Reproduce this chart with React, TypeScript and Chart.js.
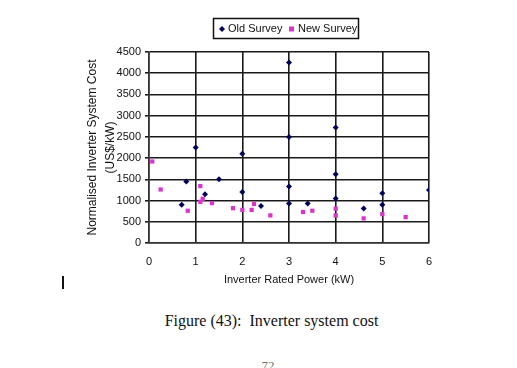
import React, { useEffect, useRef } from "react";
import { Chart, registerables } from "chart.js";

Chart.register(...registerables);

const oldSurveyX = [1, 2, 0.8, 1.5, 1.2, 0.7, 2, 3, 3, 2.4, 3.4, 4, 4, 4.6, 5, 5, 6, 3, 3, 4];
const oldSurveyY = [2250, 2100, 1450, 1500, 1150, 900, 1200, 1330, 930, 870, 930, 1620, 1050, 810, 1170, 900, 1250, 4250, 2500, 2720];

const newSurveyX = [0.07, 0.25, 0.83, 1.1, 1.1, 1.15, 1.35, 1.8, 2, 2.2, 2.25, 2.6, 3.3, 3.5, 4, 4, 4.6, 5, 5.5];
const newSurveyY = [1920, 1260, 760, 1340, 970, 1040, 940, 820, 780, 780, 920, 650, 730, 760, 810, 650, 580, 680, 610];

const xTicks = [0, 1, 2, 3, 4, 5, 6];
const yTicks = [0, 500, 1000, 1500, 2000, 2500, 3000, 3500, 4000, 4500];

const seriesNames = ["Old Survey", "New Survey"];
const yTitle = ["Normalised Inverter System Cost", "(US$/kW)"];
const xTitle = "Inverter Rated Power (kW)";
const caption = "Figure (43):  Inverter system cost";
const pageNumber = "72";

const FONT = "'Liberation Sans', Arial, sans-serif";

const legendPlugin = {
  id: "boxLegend",
  afterDraw(chart: any) {
    const ctx = chart.ctx;
    ctx.save();
    ctx.strokeStyle = "#111";
    ctx.lineWidth = 1.5;
    ctx.strokeRect(213.5, 18.5, 145, 20);
    ctx.font = "11px " + FONT;
    ctx.textBaseline = "middle";
    const cy = 29;
    ctx.fillStyle = "#000060";
    ctx.beginPath();
    ctx.moveTo(222, cy - 3);
    ctx.lineTo(225, cy);
    ctx.lineTo(222, cy + 3);
    ctx.lineTo(219, cy);
    ctx.closePath();
    ctx.fill();
    ctx.fillStyle = "#111";
    ctx.fillText(seriesNames[0], 228, cy);
    ctx.fillStyle = "#e030d0";
    ctx.fillRect(289, cy - 2.5, 5, 5);
    ctx.fillStyle = "#111";
    ctx.fillText(seriesNames[1], 298, cy);
    ctx.restore();
  },
};

export default function App() {
  const ref = useRef<HTMLCanvasElement>(null);

  useEffect(() => {
    if (!ref.current) return;
    const chart = new Chart(ref.current, {
      type: "scatter",
      data: {
        datasets: [
          {
            label: seriesNames[0],
            data: oldSurveyX.map((x, i) => ({ x, y: oldSurveyY[i] })),
            pointStyle: "rectRot",
            pointRadius: 3,
            backgroundColor: "#000060",
            borderColor: "#000060",
            borderWidth: 0,
          },
          {
            label: seriesNames[1],
            data: newSurveyX.map((x, i) => ({ x, y: newSurveyY[i] })),
            pointStyle: "rect",
            pointRadius: 3,
            backgroundColor: "#e030d0",
            borderColor: "#e030d0",
            borderWidth: 0,
          },
        ],
      },
      options: {
        animation: false,
        responsive: false,
        maintainAspectRatio: false,
        layout: { padding: { left: 80, right: 88, top: 52, bottom: 12 } },
        plugins: {
          legend: { display: false },
          tooltip: { enabled: false },
        },
        scales: {
          x: {
            type: "linear",
            min: 0,
            max: 6,
            afterBuildTicks: (s: any) => {
              s.ticks = xTicks.map((v) => ({ value: v }));
            },
            afterFit: (s: any) => {
              s.height = 45;
            },
            ticks: {
              color: "#111",
              font: { family: FONT, size: 11 },
              padding: 12,
              callback: (v: any) => String(v),
            },
            grid: { color: "#1a1a1a", lineWidth: 1.6, drawTicks: false },
            border: { color: "#333", width: 1.5 },
            title: {
              display: true,
              text: xTitle,
              color: "#111",
              font: { family: FONT, size: 11 },
              padding: { top: 0, bottom: 1 },
            },
          },
          y: {
            type: "linear",
            min: 0,
            max: 4500,
            afterBuildTicks: (s: any) => {
              s.ticks = yTicks.map((v) => ({ value: v }));
            },
            afterFit: (s: any) => {
              s.width = 69;
            },
            ticks: {
              color: "#111",
              font: { family: FONT, size: 11 },
              padding: 4,
              callback: (v: any) => String(v),
            },
            grid: { color: "#1a1a1a", lineWidth: 1.6, tickLength: 4 },
            border: { color: "#333", width: 1.5 },
            title: {
              display: true,
              text: yTitle,
              color: "#111",
              font: { family: FONT, size: 12, lineHeight: "18px" as any },
              padding: { top: 4, bottom: 0 },
            },
          },
        },
      },
      plugins: [legendPlugin],
    });
    return () => chart.destroy();
  }, []);

  return (
    <div
      style={{
        position: "fixed",
        left: 0,
        top: 0,
        width: 517,
        height: 368,
        background: "#fff",
        overflow: "hidden",
      }}
    >
      <canvas
        ref={ref}
        width={517}
        height={300}
        style={{ position: "absolute", left: 0, top: 0, width: 517, height: 300 }}
      />
      <div
        style={{
          position: "absolute",
          left: 62,
          top: 276,
          width: 2,
          height: 13,
          background: "#111",
        }}
      />
      <div
        style={{
          position: "absolute",
          left: 0,
          width: 543,
          top: 312,
          textAlign: "center",
          fontFamily: "'Liberation Serif', 'Times New Roman', serif",
          fontSize: 16,
          color: "#111",
          whiteSpace: "pre",
        }}
      >
        {caption}
      </div>
      <div
        style={{
          position: "absolute",
          left: 0,
          width: 536,
          top: 358,
          textAlign: "center",
          fontFamily: "'Liberation Serif', 'Times New Roman', serif",
          fontSize: 13,
          color: "#777",
        }}
      >
        {pageNumber}
      </div>
    </div>
  );
}
